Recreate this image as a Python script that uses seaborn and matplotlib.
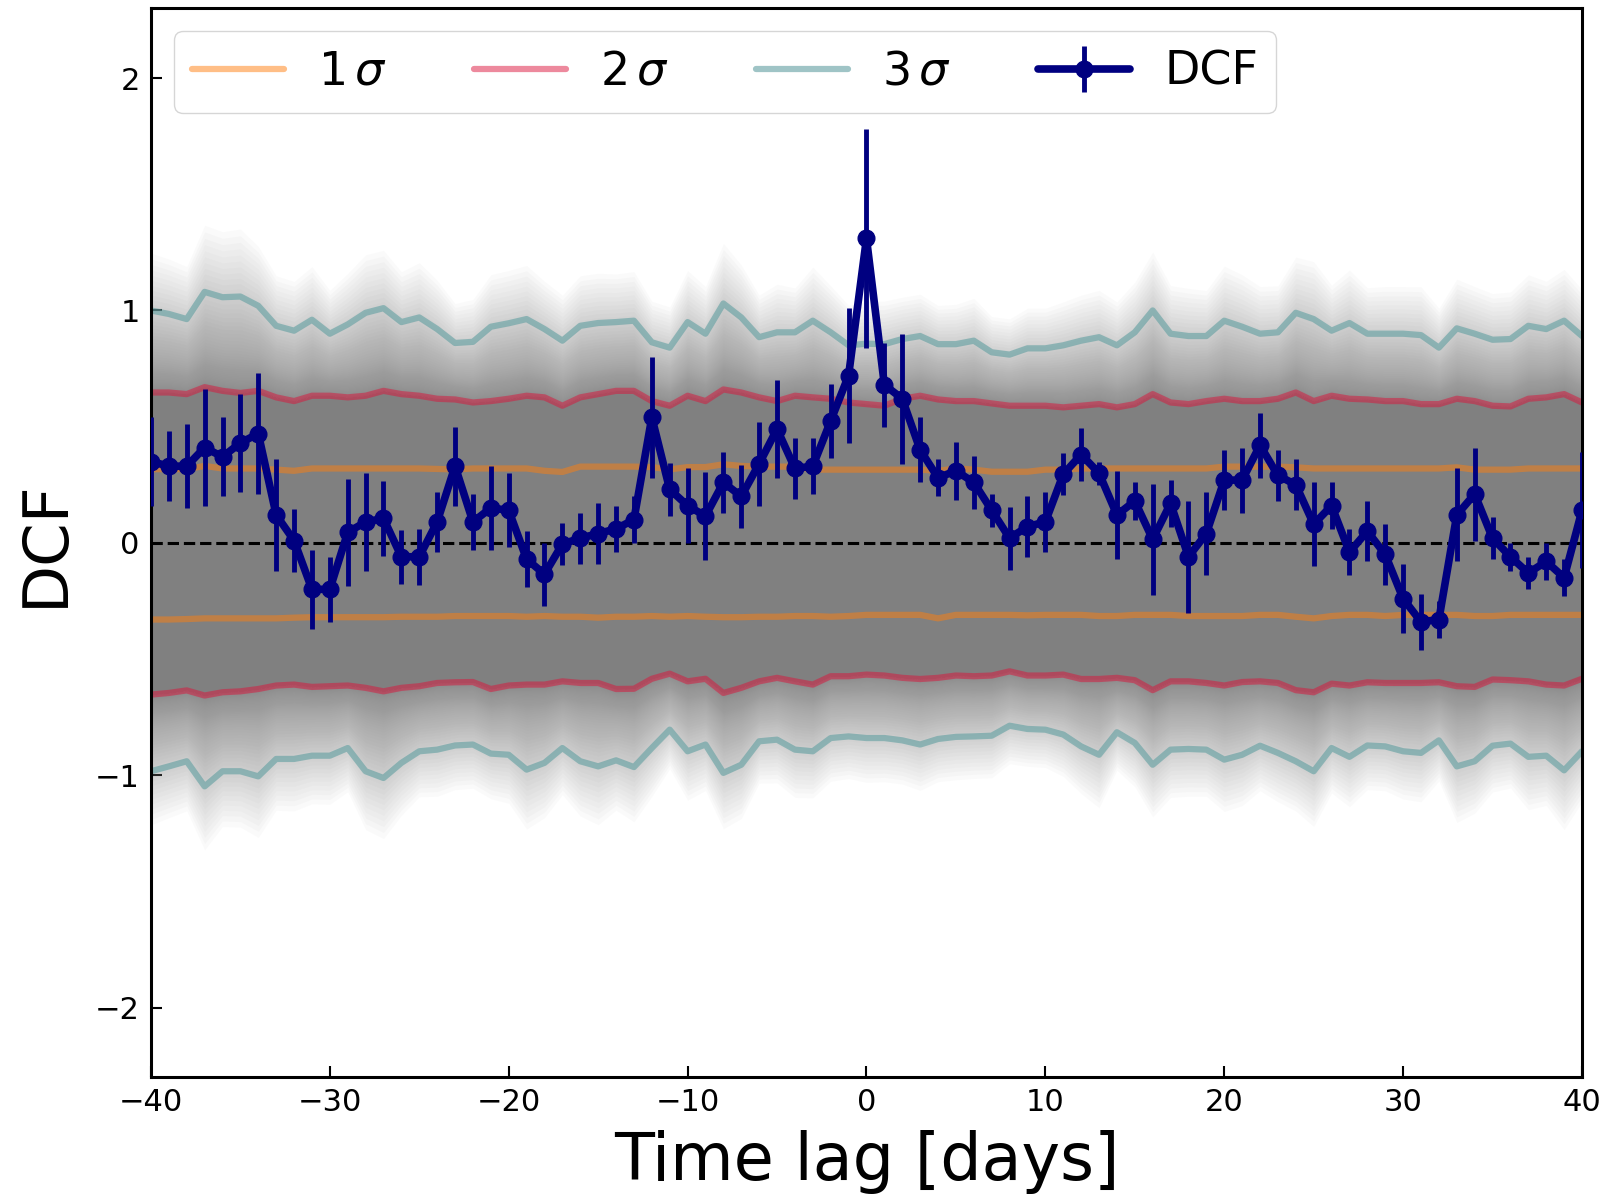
import numpy as np
import matplotlib
matplotlib.use("Agg")
import matplotlib.pyplot as plt
import seaborn as sns

# Time lags (days)
lags = np.arange(-40, 41)

# DCF values and errors
dcf = [0.35, 0.33, 0.33, 0.41, 0.37, 0.43, 0.47, 0.12, 0.01, -0.20,
       -0.20, 0.045, 0.09, 0.105, -0.06, -0.06, 0.09, 0.33, 0.09, 0.15,
       0.14, -0.07, -0.135, -0.005, 0.02, 0.04, 0.06, 0.10, 0.54, 0.23,
       0.16, 0.115, 0.26, 0.20, 0.34, 0.49, 0.32, 0.33, 0.525, 0.72,
       1.31,
       0.68, 0.62, 0.40, 0.28, 0.31, 0.26, 0.14, 0.02, 0.07, 0.09,
       0.295, 0.38, 0.30, 0.12, 0.18, 0.015, 0.17, -0.06, 0.04, 0.27,
       0.27, 0.42, 0.29, 0.25, 0.08, 0.16, -0.04, 0.05, -0.05, -0.24,
       -0.34, -0.33, 0.12, 0.21, 0.02, -0.06, -0.13, -0.08, -0.15, 0.14]
dcf_err = [0.19, 0.15, 0.18, 0.25, 0.17, 0.21, 0.26, 0.24, 0.135, 0.17,
           0.14, 0.23, 0.21, 0.16, 0.115, 0.12, 0.13, 0.17, 0.12, 0.18,
           0.16, 0.12, 0.135, 0.09, 0.11, 0.13, 0.10, 0.10, 0.26, 0.115,
           0.16, 0.19, 0.13, 0.135, 0.18, 0.21, 0.13, 0.12, 0.16, 0.29,
           0.47,
           0.18, 0.28, 0.14, 0.08, 0.125, 0.115, 0.07, 0.135, 0.13, 0.13,
           0.09, 0.115, 0.05, 0.19, 0.08, 0.24, 0.10, 0.24, 0.18, 0.13,
           0.14, 0.14, 0.11, 0.11, 0.18, 0.10, 0.10, 0.13, 0.13, 0.15,
           0.12, 0.08, 0.20, 0.20, 0.09, 0.06, 0.07, 0.08, 0.08, 0.25]

# significance levels from simulations
up1 = [0.317, 0.317, 0.317, 0.331, 0.32, 0.32, 0.32, 0.315, 0.31, 0.32,
       0.32, 0.32, 0.32, 0.32, 0.32, 0.32, 0.318, 0.316, 0.32, 0.32,
       0.32, 0.32, 0.31, 0.305, 0.328, 0.328, 0.328, 0.328, 0.326, 0.316,
       0.326, 0.326, 0.338, 0.331, 0.328, 0.328, 0.328, 0.315, 0.315, 0.315,
       0.315,
       0.315, 0.315, 0.315, 0.31, 0.32, 0.315, 0.306, 0.306, 0.306, 0.315,
       0.315, 0.32, 0.32, 0.32, 0.32, 0.32, 0.32, 0.32, 0.32, 0.328,
       0.328, 0.328, 0.328, 0.325, 0.32, 0.32, 0.32, 0.32, 0.32, 0.32,
       0.32, 0.32, 0.325, 0.315, 0.315, 0.315, 0.32, 0.32, 0.32, 0.32]
lo1 = [-0.33, -0.33, -0.328, -0.325, -0.325, -0.325, -0.325, -0.325, -0.322, -0.32,
       -0.32, -0.32, -0.32, -0.32, -0.318, -0.318, -0.318, -0.315, -0.315, -0.315,
       -0.315, -0.318, -0.315, -0.318, -0.318, -0.322, -0.318, -0.318, -0.315, -0.318,
       -0.315, -0.318, -0.32, -0.32, -0.318, -0.318, -0.315, -0.315, -0.318, -0.315,
       -0.31,
       -0.31, -0.31, -0.31, -0.325, -0.31, -0.31, -0.31, -0.31, -0.312, -0.31,
       -0.31, -0.31, -0.315, -0.315, -0.31, -0.31, -0.31, -0.315, -0.315, -0.315,
       -0.315, -0.31, -0.31, -0.318, -0.325, -0.315, -0.31, -0.31, -0.315, -0.31,
       -0.31, -0.31, -0.31, -0.315, -0.315, -0.31, -0.31, -0.31, -0.31, -0.31]
up2 = [0.647, 0.647, 0.64, 0.67, 0.654, 0.645, 0.654, 0.626, 0.61, 0.633,
       0.633, 0.626, 0.633, 0.654, 0.64, 0.633, 0.62, 0.617, 0.604, 0.61,
       0.62, 0.633, 0.626, 0.59, 0.626, 0.64, 0.654, 0.654, 0.61, 0.59,
       0.633, 0.61, 0.66, 0.647, 0.626, 0.61, 0.633, 0.626, 0.62, 0.604,
       0.597,
       0.59, 0.62, 0.633, 0.617, 0.61, 0.61, 0.60, 0.59, 0.59, 0.59,
       0.583, 0.59, 0.597, 0.583, 0.597, 0.64, 0.604, 0.597, 0.61, 0.62,
       0.61, 0.61, 0.62, 0.647, 0.61, 0.633, 0.62, 0.617, 0.61, 0.61,
       0.597, 0.597, 0.62, 0.61, 0.59, 0.587, 0.62, 0.626, 0.64, 0.604]
lo2 = [-0.653, -0.646, -0.635, -0.657, -0.643, -0.639, -0.629, -0.614, -0.61, -0.62,
       -0.617, -0.614, -0.624, -0.639, -0.624, -0.617, -0.603, -0.60, -0.599, -0.629,
       -0.614, -0.61, -0.61, -0.596, -0.603, -0.603, -0.629, -0.628, -0.585, -0.563,
       -0.596, -0.585, -0.646, -0.624, -0.596, -0.581, -0.596, -0.61, -0.574, -0.574,
       -0.567,
       -0.571, -0.581, -0.586, -0.581, -0.571, -0.574, -0.571, -0.553, -0.571, -0.571,
       -0.567, -0.586, -0.586, -0.581, -0.591, -0.634, -0.596, -0.596, -0.603, -0.614,
       -0.599, -0.596, -0.603, -0.634, -0.643, -0.606, -0.614, -0.60, -0.603, -0.603,
       -0.603, -0.60, -0.617, -0.62, -0.588, -0.591, -0.596, -0.61, -0.614, -0.585]
up3 = [1.00, 0.985, 0.963, 1.08, 1.057, 1.06, 1.02, 0.934, 0.913, 0.96,
       0.90, 0.94, 0.99, 1.01, 0.95, 0.97, 0.92, 0.86, 0.865, 0.93,
       0.945, 0.963, 0.92, 0.87, 0.934, 0.946, 0.95, 0.956, 0.863, 0.84,
       0.95, 0.90, 1.03, 0.97, 0.885, 0.906, 0.906, 0.956, 0.906, 0.85,
       0.857,
       0.855, 0.877, 0.89, 0.855, 0.855, 0.87, 0.82, 0.81, 0.837, 0.837,
       0.85, 0.87, 0.885, 0.85, 0.906, 1.00, 0.90, 0.89, 0.89, 0.956,
       0.93, 0.90, 0.906, 0.99, 0.963, 0.913, 0.946, 0.90, 0.90, 0.90,
       0.894, 0.84, 0.923, 0.90, 0.874, 0.877, 0.934, 0.92, 0.956, 0.89]
lo3 = [-0.983, -0.962, -0.94, -1.048, -0.983, -0.983, -1.005, -0.93, -0.93, -0.916,
       -0.916, -0.883, -0.983, -1.012, -0.947, -0.897, -0.89, -0.872, -0.868, -0.907,
       -0.912, -0.976, -0.947, -0.883, -0.94, -0.962, -0.936, -0.965, -0.883, -0.804,
       -0.897, -0.868, -0.99, -0.955, -0.854, -0.847, -0.89, -0.897, -0.84, -0.833,
       -0.84,
       -0.84, -0.85, -0.868, -0.844, -0.835, -0.833, -0.83, -0.787, -0.801, -0.804,
       -0.825, -0.876, -0.912, -0.815, -0.861, -0.955, -0.89, -0.887, -0.89, -0.933,
       -0.912, -0.873, -0.904, -0.94, -0.983, -0.883, -0.921, -0.872, -0.876, -0.897,
       -0.904, -0.85, -0.962, -0.94, -0.873, -0.864, -0.921, -0.916, -0.979, -0.897]

sns.set_style("ticks")
plt.rcParams['font.family'] = ['DejaVu Sans']
plt.rcParams['mathtext.fontset'] = 'dejavusans'
plt.rcParams['text.color'] = 'black'
plt.rcParams['axes.labelcolor'] = 'black'

fig, ax = plt.subplots(figsize=(16.11, 11.97), dpi=100)
fig.subplots_adjust(left=0.0937, right=0.982, top=0.993, bottom=0.100)

u1, l1 = np.array(up1), np.array(lo1)
u2, l2 = np.array(up2), np.array(lo2)
u3, l3 = np.array(up3), np.array(lo3)

# cloud of simulated curves: solid core inside 2 sigma, fading outside
ax.fill_between(lags, l2, u2, color='#808080', lw=0, zorder=1)
n_layers = 60
for k in range(1, n_layers + 1):
    f = 1.7 * (k / n_layers) ** 2.5
    ax.fill_between(lags, u2, u2 + f * (u3 - u2), color='#808080',
                    alpha=0.035, lw=0, zorder=1)
    ax.fill_between(lags, l2 + f * (l3 - l2), l2, color='#808080',
                    alpha=0.035, lw=0, zorder=1)

# sigma levels
sig_styles = [(u1, l1, '#ff7f0e', 0.5, r'1$\,\sigma$'),
              (u2, l2, 'crimson', 0.5, r'2$\,\sigma$'),
              (u3, l3, 'cadetblue', 0.6, r'3$\,\sigma$')]
for up, lo, col, a, lab in sig_styles:
    sns.lineplot(x=lags, y=up, color=col, alpha=a, lw=4.5, ax=ax,
                 label=lab, zorder=2)
    sns.lineplot(x=lags, y=lo, color=col, alpha=a, lw=4.5, ax=ax,
                 label='_nolegend_', zorder=2)

ax.axhline(0, color='black', ls='--', lw=2.2, zorder=3)

ax.errorbar(lags, dcf, yerr=dcf_err, color='navy', lw=5.5, marker='o',
            ms=12, elinewidth=3.5, capsize=0, zorder=5, label='DCF')

ax.set_xlim(-40, 40)
ax.set_ylim(-2.3, 2.3)
ax.set_xticks([-40, -30, -20, -10, 0, 10, 20, 30, 40])
ax.set_yticks([-2, -1, 0, 1, 2])
ax.tick_params(direction='in', length=8, width=1.5, labelsize=22, pad=8,
               colors='black')
for s in ax.spines.values():
    s.set_linewidth(2.2)
    s.set_color('black')

ax.set_xlabel('Time lag [days]', fontsize=47, labelpad=9)
ax.set_ylabel('DCF', fontsize=45, labelpad=14)

ax.legend(loc='upper left', ncol=4, fontsize=33, handlelength=2.0,
          handletextpad=0.75, columnspacing=1.9, frameon=True,
          edgecolor='#cccccc')

fig.savefig('out.png', dpi=100)
